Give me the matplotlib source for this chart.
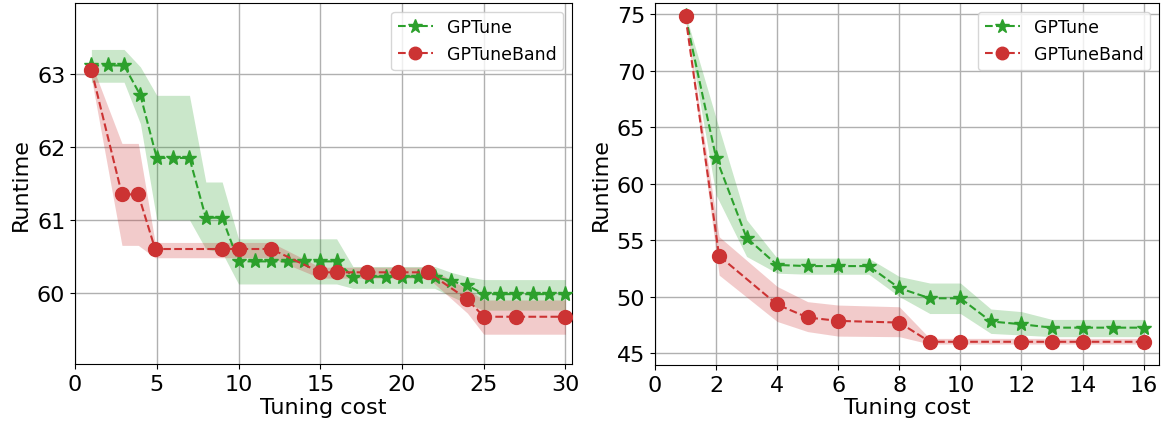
import matplotlib
matplotlib.use("Agg")
import matplotlib.pyplot as plt

# left panel
gp_x1 = list(range(1, 31))
gp_y1 = [63.12, 63.12, 63.12, 62.71, 61.85, 61.85, 61.85, 61.03, 61.03, 60.43,
         60.43, 60.43, 60.43, 60.43, 60.43, 60.43, 60.22, 60.22, 60.22, 60.22,
         60.22, 60.22, 60.16, 60.10, 59.98, 59.98, 59.98, 59.98, 59.98, 59.98]
gp_lo1 = [62.89, 62.89, 62.89, 62.32, 61.0, 61.0, 61.0, 60.6, 60.55, 60.12,
          60.12, 60.12, 60.12, 60.12, 60.12, 60.12, 60.06, 60.06, 60.06, 60.06,
          60.06, 60.06, 59.95, 59.85, 59.76, 59.76, 59.76, 59.76, 59.76, 59.76]
gp_hi1 = [63.34, 63.34, 63.34, 63.1, 62.71, 62.71, 62.71, 61.52, 61.52, 60.74,
          60.74, 60.74, 60.74, 60.74, 60.74, 60.74, 60.36, 60.36, 60.36, 60.36,
          60.36, 60.36, 60.28, 60.22, 60.18, 60.18, 60.18, 60.18, 60.18, 60.18]

gb_x1 = [1, 2.87, 3.87, 4.9, 8.97, 10, 12, 15, 16, 17.87, 19.75, 21.6, 24, 25, 27, 30]
gb_y1 = [63.06, 61.35, 61.35, 60.6, 60.6, 60.6, 60.6, 60.28, 60.28, 60.28, 60.28,
         60.28, 59.91, 59.67, 59.67, 59.67]
gb_lo1 = [62.95, 60.65, 60.65, 60.48, 60.48, 60.48, 60.48, 60.2, 60.2, 60.2, 60.2,
          60.2, 59.72, 59.43, 59.43, 59.43]
gb_hi1 = [63.15, 62.05, 62.05, 60.69, 60.69, 60.69, 60.69, 60.35, 60.35, 60.35,
          60.35, 60.35, 60.05, 59.9, 59.9, 59.9]

# right panel
gp_x2 = list(range(1, 17))
gp_y2 = [74.8, 62.3, 55.2, 52.8, 52.7, 52.7, 52.7, 50.75, 49.85, 49.85, 47.8,
         47.55, 47.25, 47.25, 47.25, 47.25]
gp_lo2 = [74.6, 59.0, 53.55, 52.07, 51.98, 51.98, 51.98, 50.0, 48.5, 48.5, 46.74,
          46.6, 46.45, 46.45, 46.45, 46.45]
gp_hi2 = [75.0, 65.8, 56.8, 53.4, 53.4, 53.4, 53.4, 51.78, 51.2, 51.2, 48.9,
          48.67, 47.98, 47.98, 47.98, 47.98]

gb_x2 = [1, 2.1, 4, 5, 6, 8, 9, 10, 12, 13, 14, 16]
gb_y2 = [74.8, 53.6, 49.3, 48.15, 47.85, 47.7, 46.0, 46.0, 46.0, 46.0, 46.0, 46.0]
gb_lo2 = [74.6, 51.9, 47.8, 46.9, 46.5, 46.45, 45.8, 45.8, 45.8, 45.8, 45.8, 45.8]
gb_hi2 = [75.0, 55.3, 50.9, 49.55, 49.25, 49.1, 46.3, 46.3, 46.3, 46.3, 46.3, 46.3]

green = '#2ca02c'
red = '#cc3333'

fig = plt.figure(figsize=(11.65, 4.27), dpi=100)
ax1 = fig.add_axes([0.0644, 0.145, 0.4266, 0.846])
ax2 = fig.add_axes([0.5622, 0.143, 0.4326, 0.848])

panels = [
    (ax1, gp_x1, gp_y1, gp_lo1, gp_hi1, gb_x1, gb_y1, gb_lo1, gb_hi1),
    (ax2, gp_x2, gp_y2, gp_lo2, gp_hi2, gb_x2, gb_y2, gb_lo2, gb_hi2),
]

for ax, x1, y1, lo1, hi1, x2, y2, lo2, hi2 in panels:
    ax.plot(x1, y1, '--', color=green, marker='*', markersize=11, label='GPTune', zorder=3)
    ax.fill_between(x1, lo1, hi1, color=green, alpha=0.25, linewidth=0)
    ax.plot(x2, y2, '--', color=red, marker='o', markersize=10, label='GPTuneBand', zorder=3)
    ax.fill_between(x2, lo2, hi2, color=red, alpha=0.25, linewidth=0)
    ax.grid(True, color='#b0b0b0', linewidth=1)
    ax.set_axisbelow(True)
    ax.set_xlabel('Tuning cost', fontsize=16, labelpad=2)
    ax.set_ylabel('Runtime', fontsize=16, labelpad=4)
    ax.tick_params(labelsize=16)
    ax.legend(loc='upper right', fontsize=12.5, markerscale=0.9)

ax1.set_xlim(0, 30.4)
ax1.set_ylim(59.02, 63.98)
ax1.set_xticks([0, 5, 10, 15, 20, 25, 30])
ax1.set_yticks([60, 61, 62, 63])

ax2.set_xlim(0, 16.5)
ax2.set_ylim(43.95, 76.0)
ax2.set_xticks(range(0, 17, 2))
ax2.set_yticks(range(45, 80, 5))

fig.savefig('out.png', dpi=100)
